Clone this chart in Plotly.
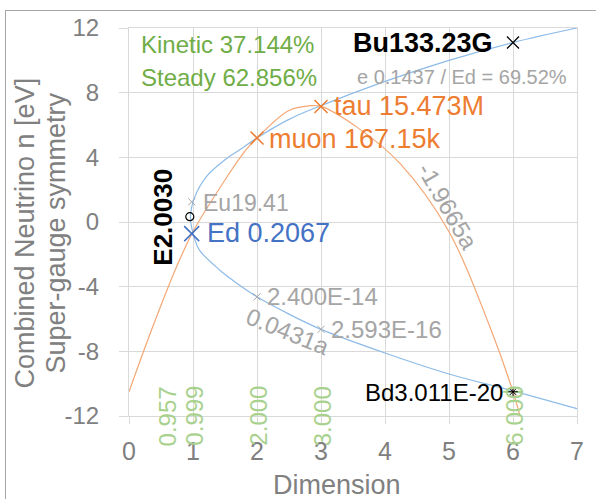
import plotly.graph_objects as go

# ---- data ----
blue_x = [7.0, 6.0, 5.0, 4.0, 3.0, 2.5, 2.0, 1.73, 1.5, 1.21, 1.03, 0.96, 1.03, 1.1, 1.42, 1.62, 2.0, 2.5, 3.0, 4.0, 5.0, 6.0, 7.0]
blue_y = [12.0, 11.1, 10.0, 8.7, 7.2, 6.35, 5.2, 4.47, 3.85, 2.81, 1.57, 0.3, -1.1, -1.74, -2.98, -3.6, -4.63, -5.7, -6.64, -8.1, -9.4, -10.45, -11.55]

orange_x = [0.0, 0.35, 0.74, 1.0, 1.5, 1.83, 2.0, 2.5, 2.85, 3.0, 3.55, 4.23, 5.0, 5.64, 6.0, 6.15]
orange_y = [-10.5, -6.7, -2.8, -0.6, 2.6, 4.47, 5.2, 6.9, 7.2, 7.15, 5.9, 3.64, -0.6, -6.5, -10.5, -12.6]

orange_mk_x = [2.0, 3.0]
orange_mk_y = [5.2, 7.15]
blue_mk_x = [0.98]
blue_mk_y = [-0.72]
gray_mk_x = [0.98, 2.0, 3.0]
gray_mk_y = [1.25, -4.63, -6.64]
black_x_mk = [6.0]
black_y_mk = [11.1]
circle_x = [0.95]
circle_y = [0.33]
bd_x = [6.0]
bd_y = [-10.5]

green_vals = ["0.957", "0.999", "2.000", "3.000", "6.000"]
green_pos = [0.6, 1.01, 2.01, 3.02, 6.01]

x_ticks = [0, 1, 2, 3, 4, 5, 6, 7]
y_ticks = [-12, -8, -4, 0, 4, 8, 12]

FONT = "Liberation Sans, Arial, sans-serif"
GRID = "#D9D9D9"
TICKC = "#808080"
GRAY = "#A5A5A5"
ORANGE = "#ED7D31"
BLUE = "#4472C4"
GREEN = "#70AD47"
LGREEN = "#A9D18E"

fig = go.Figure()
fig.add_trace(go.Scatter(x=blue_x, y=blue_y, mode="lines",
                         line=dict(color="#8DBBE8", width=1.2, shape="spline"), hoverinfo="skip"))
fig.add_trace(go.Scatter(x=orange_x, y=orange_y, mode="lines",
                         line=dict(color="#F4A774", width=1.2, shape="spline"), hoverinfo="skip"))

def mk(x, y, sym, size, color, w=1.5):
    fig.add_trace(go.Scatter(x=x, y=y, mode="markers", cliponaxis=False,
                             marker=dict(symbol=sym, size=size, color=color,
                                         line=dict(color=color, width=w))))

mk(orange_mk_x, orange_mk_y, "x-thin", 13, ORANGE)
mk(blue_mk_x, blue_mk_y, "x-thin", 15, BLUE)
mk(gray_mk_x, gray_mk_y, "x-thin", 7, GRAY, 1)
mk(black_x_mk, black_y_mk, "x-thin", 12, "black", 1.3)
mk(circle_x, circle_y, "circle-open", 8, "black", 1.2)
mk(bd_x, bd_y, "line-ew", 14, LGREEN, 2)
mk(bd_x, bd_y, "asterisk-open", 8, "black", 1)

ann = []
def A(text, x, y, size, color, xanchor="left", bold=False, angle=0, xref="x", yref="y"):
    t = "<b>%s</b>" % text if bold else text
    ann.append(dict(text=t, x=x, y=y, xref=xref, yref=yref, showarrow=False,
                    xanchor=xanchor, yanchor="middle", textangle=angle,
                    font=dict(family=FONT, size=size, color=color)))

A("Kinetic 37.144%", 0.16, 11.0, 24, GREEN)
A("Steady 62.856%", 0.16, 8.95, 24, GREEN)
A("Bu133.23G", 5.72, 11.1, 27, "black", xanchor="right", bold=True)
A("e 0.1437 / Ed = 69.52%", 6.88, 8.95, 20, GRAY, xanchor="right")
A("tau 15.473M", 3.17, 7.15, 27, ORANGE)
A("muon 167.15k", 2.15, 5.15, 27, ORANGE)
A("Eu19.41", 1.13, 1.2, 23, GRAY)
A("Ed 0.2067", 1.19, -0.65, 27, BLUE)
A("E2.0030", 0.54, 0.3, 26, "black", xanchor="center", bold=True, angle=-90)
A("2.400E-14", 2.13, -4.63, 24, GRAY)
A("2.593E-16", 3.12, -6.67, 24, GRAY)
A("0.0431a", 2.48, -6.8, 24, GRAY, xanchor="center", angle=22)
A("-1.9665a", 4.97, 1.0, 24, GRAY, xanchor="center", angle=60)
A("Bd3.011E-20", 5.88, -10.52, 24, "black", xanchor="right")
for v, p in zip(green_vals, green_pos):
    A(v, p, -12, 24, LGREEN, xanchor="center", angle=-90)

# axis titles (paper coords)
A("Combined Neutrino n [eV]", -0.231, 0.4716, 27, TICKC, xanchor="center", angle=-90, xref="paper", yref="paper")
A("Super-gauge symmetry", -0.164, 0.4716, 27, TICKC, xanchor="center", angle=-90, xref="paper", yref="paper")
A("Dimension", 0.4636, -0.178, 27, TICKC, xanchor="center", xref="paper", yref="paper")

fig.update_layout(
    width=596, height=499,
    margin=dict(l=129, r=19, t=28, b=83),
    paper_bgcolor="white", plot_bgcolor="white",
    showlegend=False,
    annotations=ann,
    font=dict(family=FONT),
)
fig.update_xaxes(range=[0, 7], tickvals=x_ticks, ticktext=[str(v) for v in x_ticks],
                 showgrid=True, gridcolor=GRID, gridwidth=1, zeroline=False,
                 showline=True, mirror=True, linecolor=GRID, linewidth=1,
                 ticks="outside", ticklen=7, tickcolor=GRID, ticklabelstandoff=6,
                 tickfont=dict(family=FONT, size=25, color=TICKC))
fig.update_yaxes(range=[-12, 12], tickvals=y_ticks, ticktext=[str(v) for v in y_ticks],
                 showgrid=True, gridcolor=GRID, gridwidth=1, zeroline=False,
                 showline=True, mirror=True, linecolor=GRID, linewidth=1,
                 ticks="outside", ticklen=9, tickcolor=GRID, ticklabelstandoff=15,
                 tickfont=dict(family=FONT, size=24, color=TICKC))

post = ("document.body.style.margin='0px';document.body.style.overflow='hidden';"
        "var b=document.createElement('div');"
        "b.style.cssText='position:absolute;left:5px;top:10px;width:800px;height:800px;"
        "border-top:1px solid #A6A6A6;border-left:1px solid #A6A6A6;pointer-events:none;';"
        "document.body.appendChild(b);")
fig.write_html("out.html", config={"displayModeBar": False}, post_script=post)
